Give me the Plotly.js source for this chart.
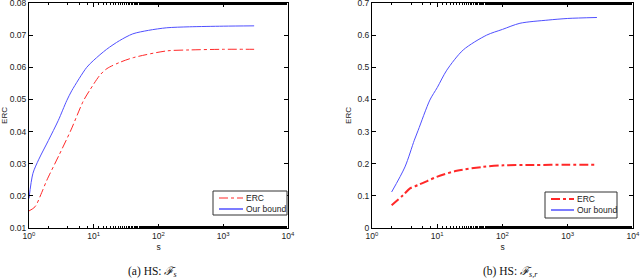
<!DOCTYPE html>
<html>
<head>
<meta charset="utf-8">
<script src="https://cdn.plot.ly/plotly-3.0.1.min.js"></script>
<style>html,body{margin:0;padding:0;background:#fff;}#plot{width:640px;height:279px;}</style>
</head>
<body>
<div id="plot"></div>
<script>
// Panel (a): HS: F_s
const sA_bound = [1, 1.15, 1.42, 1.99, 2.84, 3.82, 4.57, 7.8, 10, 15.8, 25, 40, 70, 134, 300, 1000, 3000];
const boundA   = [0.0192, 0.0270, 0.0314, 0.0372, 0.0435, 0.0496, 0.0527, 0.0600, 0.0622, 0.0656, 0.0683, 0.0704, 0.0715, 0.0723, 0.0726, 0.0728, 0.0729];
const sA_erc   = [1, 1.24, 1.57, 1.88, 2.9, 4.45, 6.9, 8.76, 12.5, 16, 25, 40.8, 134, 300, 1000, 3000];
const ercA     = [0.0153, 0.0166, 0.0210, 0.0248, 0.0326, 0.0405, 0.0495, 0.0530, 0.0576, 0.0596, 0.0615, 0.0630, 0.0651, 0.0654, 0.0656, 0.0656];
// Panel (b): HS: F_{s,r}
const sB_bound = [2, 3.2, 4.45, 5.1, 7.7, 10, 14, 25, 57, 100, 185, 500, 1000, 2800];
const boundB   = [0.112, 0.190, 0.273, 0.304, 0.398, 0.437, 0.491, 0.554, 0.600, 0.618, 0.637, 0.647, 0.652, 0.655];
const sB_erc   = [2, 3, 3.82, 5, 7, 9.8, 19.9, 50, 103, 300, 1000, 2800];
const ercB     = [0.0707, 0.102, 0.123, 0.133, 0.146, 0.159, 0.178, 0.190, 0.195, 0.196, 0.197, 0.197];

const seriesNames = ['ERC', 'Our bound'];
const xTickVals = [1, 10, 100, 1000, 10000];
const xTickText = ['10<sup>0</sup>', '10<sup>1</sup>', '10<sup>2</sup>', '10<sup>3</sup>', '10<sup>4</sup>'];
const yTicksA = [0.01, 0.02, 0.03, 0.04, 0.05, 0.06, 0.07, 0.08];
const yTextA  = ['0.01', '0.02', '0.03', '0.04', '0.05', '0.06', '0.07', '0.08'];
const yTicksB = [0, 0.1, 0.2, 0.3, 0.4, 0.5, 0.6, 0.7];
const yTextB  = ['0', '0.1', '0.2', '0.3', '0.4', '0.5', '0.6', '0.7'];

const BLUE = 'rgb(80,80,255)';
const RED = 'rgb(255,40,40)';
const F = 'Liberation Sans, Arial, sans-serif';
const TXT = '#222';

const traces = [
  {x: sA_erc, y: ercA, name: seriesNames[0], mode: 'lines', line: {color: RED, width: 1, dash: 'dashdot', shape: 'spline', smoothing: 0.8}, xaxis: 'x', yaxis: 'y', showlegend: false},
  {x: sA_bound, y: boundA, name: seriesNames[1], mode: 'lines', line: {color: BLUE, width: 1, shape: 'spline', smoothing: 0.8}, xaxis: 'x', yaxis: 'y', showlegend: false},
  {x: sB_erc, y: ercB, name: seriesNames[0], mode: 'lines', line: {color: RED, width: 2, dash: 'dashdot', shape: 'spline', smoothing: 0.8}, xaxis: 'x2', yaxis: 'y2', showlegend: false},
  {x: sB_bound, y: boundB, name: seriesNames[1], mode: 'lines', line: {color: BLUE, width: 1, shape: 'spline', smoothing: 0.8}, xaxis: 'x2', yaxis: 'y2', showlegend: false}
];

function xax(domain, anchor) {
  return {
    type: 'log', range: [0, 4], domain: domain, anchor: anchor,
    tickvals: xTickVals, ticktext: xTickText,
    ticks: 'inside', ticklen: 4, tickcolor: '#000',
    minor: {ticks: 'inside', ticklen: 2, tickcolor: '#000', showgrid: false},
    showline: true, linecolor: '#000', linewidth: 1, mirror: 'ticks',
    showgrid: false, zeroline: false, ticklabeloverflow: 'allow',
    tickfont: {family: F, size: 8.5, color: TXT},
    title: {text: 's', font: {family: F, size: 8.5, color: TXT}, standoff: 3}
  };
}
function yax(domain, anchor, vals, text, range) {
  return {
    range: range, domain: domain, anchor: anchor,
    tickvals: vals, ticktext: text,
    ticks: 'inside', ticklen: 4, tickcolor: '#000',
    showline: true, linecolor: '#000', linewidth: 1, mirror: 'ticks',
    showgrid: false, zeroline: false, ticklabeloverflow: 'allow',
    tickfont: {family: F, size: 8.5, color: TXT},
    title: {text: 'ERC', font: {family: F, size: 8, color: TXT}, standoff: 4}
  };
}

// paper-coordinate helpers (margins are zero)
const px = v => v / 640;
const py = v => 1 - v / 279;

// legend boxes drawn as shapes + annotation text
function legendParts(box, ercY, bndY, lx0, lx1, tx, ercWidth) {
  const shapes = [
    {type: 'rect', xref: 'paper', yref: 'paper', x0: px(box[0]), x1: px(box[1]), y0: py(box[3]), y1: py(box[2]),
     line: {color: '#333', width: 1}, fillcolor: '#fff', layer: 'above'},
    {type: 'line', xref: 'paper', yref: 'paper', x0: px(lx0), x1: px(lx1), y0: py(ercY), y1: py(ercY),
     line: {color: RED, width: ercWidth, dash: 'dashdot'}, layer: 'above'},
    {type: 'line', xref: 'paper', yref: 'paper', x0: px(lx0), x1: px(lx1), y0: py(bndY), y1: py(bndY),
     line: {color: BLUE, width: 1.5}, layer: 'above'}
  ];
  const ann = [
    {xref: 'paper', yref: 'paper', x: px(tx), y: py(ercY), xanchor: 'left', yanchor: 'middle', showarrow: false,
     text: seriesNames[0], font: {family: F, size: 8.5, color: TXT}},
    {xref: 'paper', yref: 'paper', x: px(tx), y: py(bndY), xanchor: 'left', yanchor: 'middle', showarrow: false,
     text: seriesNames[1], font: {family: F, size: 8.5, color: TXT}}
  ];
  return {shapes, ann};
}
const legA = legendParts([213, 287, 191, 215], 198, 209, 219, 243, 244, 1);
const legB = legendParts([545, 617, 192, 218], 199, 210, 551, 574, 575, 2);

const yDom = [51/279, 276/279];
const layout = {
  width: 640, height: 279,
  margin: {l: 0, r: 0, t: 0, b: 0},
  paper_bgcolor: '#fff', plot_bgcolor: '#fff',
  showlegend: false,
  xaxis: xax([29/640, 288/640], 'y'),
  yaxis: yax(yDom, 'x', yTicksA, yTextA, [0.00999, 0.08001]),
  xaxis2: xax([372/640, 633/640], 'y2'),
  yaxis2: yax(yDom, 'x2', yTicksB, yTextB, [-0.0001, 0.7001]),
  shapes: legA.shapes.concat(legB.shapes),
  annotations: [
    {xref: 'paper', yref: 'paper', x: 152/640, y: 7/279, xanchor: 'center', yanchor: 'middle', showarrow: false,
     text: '(a) HS: <i>ℱ<sub>s</sub></i>', font: {family: 'Liberation Serif, DejaVu Serif, serif', size: 11.5, color: '#111'}},
    {xref: 'paper', yref: 'paper', x: 510/640, y: 7/279, xanchor: 'center', yanchor: 'middle', showarrow: false,
     text: '(b) HS: <i>ℱ<sub>s,r</sub></i>', font: {family: 'Liberation Serif, DejaVu Serif, serif', size: 11.5, color: '#111'}}
  ].concat(legA.ann, legB.ann)
};

Plotly.newPlot('plot', traces, layout, {displayModeBar: false, staticPlot: true});
</script>
</body>
</html>
